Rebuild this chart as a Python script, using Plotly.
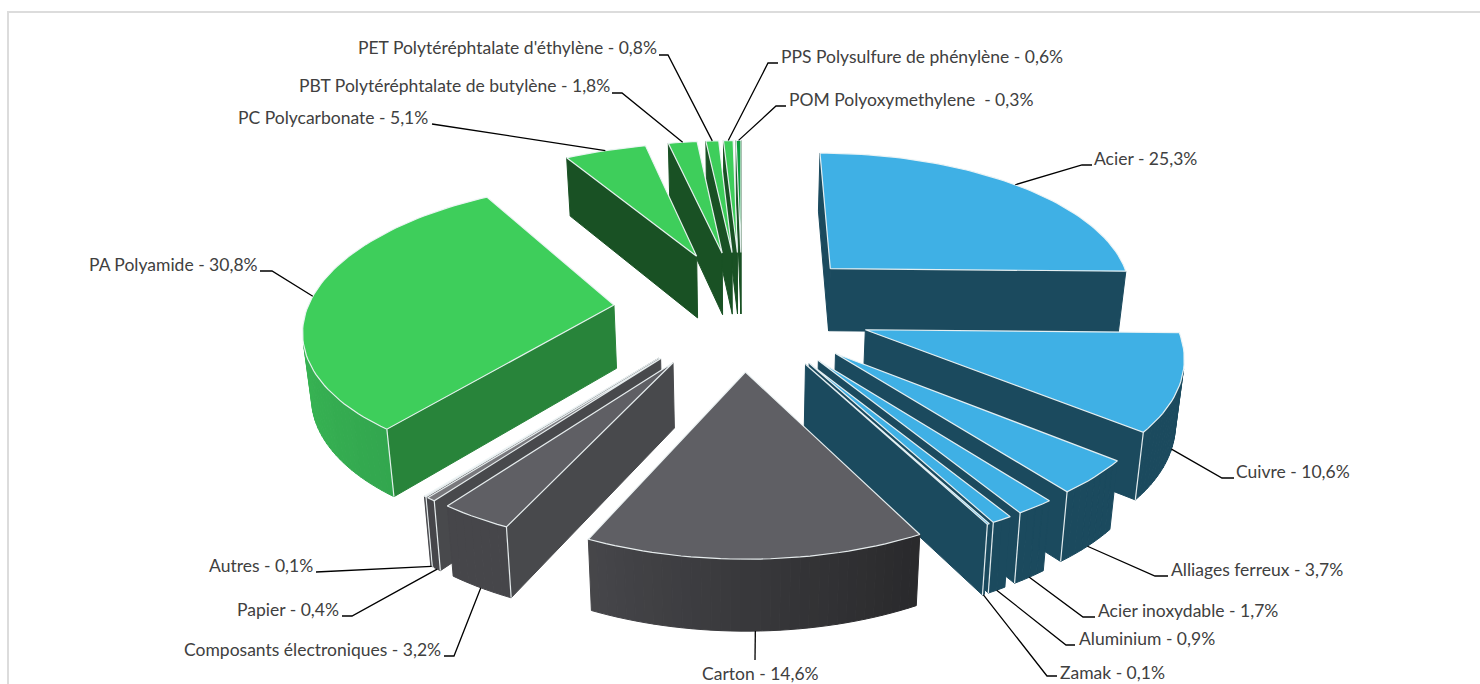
import math
import plotly.graph_objects as go

# ---- data ----
label_names = ["Acier", "Cuivre", "Alliages ferreux", "Acier inoxydable", "Aluminium", "Zamak", "Carton",
               "Composants électroniques", "Papier", "Autres", "PA Polyamide", "PC Polycarbonate",
               "PBT Polytéréphtalate de butylène", "PET Polytéréphtalate d'éthylène",
               "PPS Polysulfure de phénylène", "POM Polyoxymethylene "]
shares = [25.3, 10.6, 3.7, 1.7, 0.9, 0.1, 14.6, 3.2, 0.4, 0.1, 30.8, 5.1, 1.8, 0.8, 0.6, 0.3]
groups = ["metal"] * 6 + ["other"] * 4 + ["plastic"] * 6

# ---- styles ----
TOP = {"metal": (63, 176, 229), "other": (95, 95, 100), "plastic": (62, 206, 91)}
RADIAL = {"metal": (27, 74, 94), "other": (72, 73, 76), "plastic": (40, 132, 58)}
RADIAL_OVERRIDE = {11: (25, 81, 36), 12: (25, 81, 36), 13: (25, 81, 36), 14: (25, 81, 36), 15: (25, 81, 36)}
TOP_OVERRIDE = {15: (11, 155, 60), 9: (215, 215, 218), 8: (120, 120, 124)}
# outer wall shade: (angle, colour) stops
WALL_STOPS = {
    "metal": [(0, (27, 74, 94)), (360, (27, 74, 94))],
    "other": [(150, (40, 40, 42)), (205, (70, 70, 74)), (360, (74, 74, 78))],
    "plastic": [(215, (50, 165, 78)), (280, (58, 190, 86)), (360, (58, 190, 86))],
}
EDGE = "rgba(238,244,246,0.95)"
TEXT = "#404040"

# ---- projection ----
XC, YH, U0, C, S = 742.0, -720.0, 0.000972, 0.000134, 0.298
HEIGHT_A, HEIGHT_B, M = 28.2, 0.0342, 0.98


def top_pt(X, Y):
    t = 1.0 / (U0 + C * Y)
    return XC + S * X * t, YH + t


def bot_pt(X, Y):
    x, y = top_pt(X, Y)
    return XC + M * (x - XC), y + HEIGHT_A + HEIGHT_B * (y - YH)


EXPLODE = 0.42


def lerp_color(stops, a):
    for (a0, c0), (a1, c1) in zip(stops, stops[1:]):
        if a0 <= a <= a1:
            f = (a - a0) / (a1 - a0)
            return tuple(c0[i] + f * (c1[i] - c0[i]) for i in range(3))
    return stops[-1][1] if a > stops[-1][0] else stops[0][1]


def rgb(c):
    return "rgb(%d,%d,%d)" % tuple(round(v) for v in c)


def area(pts):
    return sum(pts[i][0] * pts[(i + 1) % len(pts)][1] - pts[(i + 1) % len(pts)][0] * pts[i][1]
               for i in range(len(pts))) / 2


fig = go.Figure()


def poly(pts, color, name=None, lw=1.0, line=None):
    fig.add_trace(go.Scatter(x=[p[0] for p in pts] + [pts[0][0]], y=[p[1] for p in pts] + [pts[0][1]],
                             mode="lines", fill="toself", fillcolor=color,
                             line=dict(color=line or color, width=lw),
                             hoverinfo="text" if name else "skip", text=name, showlegend=False))


def seg(pts, color=EDGE, w=1.2):
    fig.add_trace(go.Scatter(x=[p[0] for p in pts], y=[p[1] for p in pts], mode="lines",
                             line=dict(color=color, width=w), hoverinfo="skip", showlegend=False))


total = sum(shares)
slices, cum = [], 0.0
for i, v in enumerate(shares):
    a0 = cum / total * 2 * math.pi
    cum += v
    a1 = cum / total * 2 * math.pi
    mid = (a0 + a1) / 2
    slices.append(dict(i=i, a0=a0, a1=a1, mid=mid, ax=EXPLODE * math.sin(mid), ay=EXPLODE * math.cos(mid)))


def label_text(i):
    return "%s - %s%%" % (label_names[i], str(shares[i]).replace(".", ","))


anchors = {}
for s in sorted(slices, key=lambda d: -d["ay"]):
    i, a0, a1, ax, ay = s["i"], s["a0"], s["a1"], s["ax"], s["ay"]
    g = groups[i]
    n = max(2, int(math.degrees(a1 - a0) / 1.5) + 1)
    angs = [a0 + (a1 - a0) * j / (n - 1) for j in range(n)]
    rim = [(ax + math.sin(a), ay + math.cos(a)) for a in angs]
    top = [top_pt(*p) for p in rim]
    bot = [bot_pt(*p) for p in rim]
    apex_t, apex_b = top_pt(ax, ay), bot_pt(ax, ay)
    rad_col = rgb(RADIAL_OVERRIDE.get(i, RADIAL[g]))

    # radial walls: keep the ones that face the viewer
    w_start = [apex_t, top[0], bot[0], apex_b]
    w_end = [apex_t, apex_b, bot[-1], top[-1]]
    start_vis, end_vis = area(w_start) < 0, area(w_end) < 0
    if start_vis:
        poly(w_start, rad_col)
    if end_vis:
        poly(w_end, rad_col)

    # outer wall facets, far to near
    facets = []
    for j in range(n - 1):
        q = [top[j], top[j + 1], bot[j + 1], bot[j]]
        if area(q) < 0:
            facets.append((j, q))
    facets.sort(key=lambda f: f[1][0][1])
    for j, q in facets:
        ang = math.degrees((angs[j] + angs[j + 1]) / 2)
        poly(q, rgb(lerp_color(WALL_STOPS[g], ang)))

    if end_vis and facets:
        seg([top[-1], bot[-1]])
    if start_vis and facets:
        seg([top[0], bot[0]])

    poly([apex_t] + top, rgb(TOP_OVERRIDE.get(i, TOP[g])), name=label_text(i), lw=1.2, line=EDGE)

    rimm = (ax + math.sin(s["mid"]), ay + math.cos(s["mid"]))
    anchors[i] = bot_pt(*rimm) if math.cos(s["mid"]) < 0 else top_pt(*rimm)

# ---- labels: text anchor and leader elbow / end ----
label_layout = [
    ("left", 1092, 158.5, [(1082, 165), (1092, 165)]),
    ("left", 1234, 471.5, [(1222, 478), (1234, 478)]),
    ("left", 1169, 569.5, [(1155, 576), (1168, 576)]),
    ("left", 1096, 610.5, [(1083, 617), (1095, 617)]),
    ("left", 1077, 638.5, [(1066, 645), (1075, 645)]),
    ("left", 1058, 672.5, [(1047, 676), (1057, 676)]),
    ("center", 760, 673.5, [(755, 660)]),
    ("right", 443, 649.5, [(454, 656), (444, 656)]),
    ("right", 341, 609.5, [(352, 616), (342, 616)]),
    ("right", 315, 565.5, [(316, 572)]),
    ("right", 260, 264.5, [(272, 271), (260, 271)]),
    ("right", 430, 117.5, [(432, 124)]),
    ("right", 612, 85, [(622, 93), (612, 93)]),
    ("right", 659, 47.5, [(668, 55), (659, 55)]),
    ("left", 779, 56.5, [(768, 63), (778, 63)]),
    ("left", 787, 99.5, [(776, 106), (786, 106)]),
]
annotations = []
for i, (side, lx, ly, leader) in enumerate(label_layout):
    seg([anchors[i]] + leader, color="#000000", w=1.3)
    annotations.append(dict(x=lx, y=ly, xref="x", yref="y", showarrow=False, xanchor=side, yanchor="middle",
                            text=label_text(i),
                            font=dict(family="Lato, Carlito, Calibri, sans-serif", size=17.5, color=TEXT)))

fig.update_layout(
    width=1480, height=684, margin=dict(l=0, r=0, t=0, b=0),
    paper_bgcolor="white", plot_bgcolor="white", showlegend=False,
    xaxis=dict(range=[0, 1480], visible=False, fixedrange=True),
    yaxis=dict(range=[684, 0], visible=False, fixedrange=True),
    annotations=annotations,
    shapes=[dict(type="rect", xref="x", yref="y", x0=8, y0=12, x1=1500, y1=720,
                 line=dict(color="#DCDCDC", width=2), layer="below")],
)
fig.write_html("out.html", config={"displayModeBar": False},
               post_script="document.body.style.margin='0';document.body.style.overflow='hidden';")
